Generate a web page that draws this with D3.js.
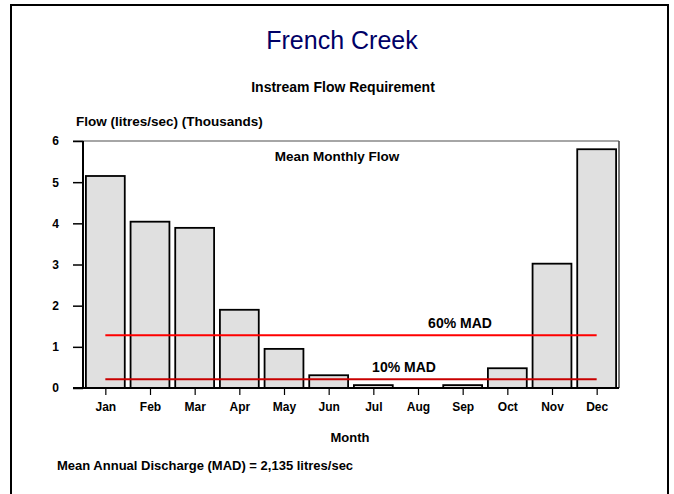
<!DOCTYPE html>
<html><head><meta charset="utf-8">
<script src="https://cdn.jsdelivr.net/npm/d3@7/dist/d3.min.js"></script>
<style>
body{margin:0;background:#fff}
svg{display:block}
text{font-family:"Liberation Sans",Arial,Helvetica,sans-serif;fill:#000}
</style>
</head><body>
<svg id="chart" width="674" height="494"></svg>
<script>
// ---- data ----
const months = ["Jan","Feb","Mar","Apr","May","Jun","Jul","Aug","Sep","Oct","Nov","Dec"];
const meanFlow = [5.15, 4.04, 3.89, 1.90, 0.95, 0.31, 0.07, 0.0, 0.07, 0.48, 3.02, 5.80]; // thousands litres/sec
const yTickValues = [0, 1, 2, 3, 4, 5, 6];
const madValue = 2135; // litres/sec
const madPercents = [60, 10];
const madLabels = ["60% MAD", "10% MAD"];
const madColors = ["#ff0000", "#c80000"];

// ---- layout ----
const svg = d3.select("#chart");
const W = 674, H = 494;
const plot = {left: 83, right: 619, top: 141, bottom: 388};

// outer frame
svg.append("path")
  .attr("d", `M11,${H} L11,5 L668,5 L668,${H}`)
  .attr("fill", "none").attr("stroke", "#000").attr("stroke-width", 2);

const x = d3.scaleBand().domain(months).range([plot.left, plot.right])
  .paddingInner(0.13).paddingOuter(0.065);
const xc = d3.scalePoint().domain(months).range([plot.left, plot.right]).padding(0.5);
const y = d3.scaleLinear().domain([0, 6]).range([plot.bottom, plot.top]);

// plot border (top, right)
svg.append("line").attr("x1", 73).attr("x2", plot.right).attr("y1", plot.top).attr("y2", plot.top)
  .attr("stroke", "#888").attr("stroke-width", 1.5);
svg.append("line").attr("x1", plot.right).attr("x2", plot.right).attr("y1", plot.top).attr("y2", plot.bottom)
  .attr("stroke", "#444").attr("stroke-width", 1.5);

// bars
svg.append("g").selectAll("rect").data(meanFlow).join("rect")
  .attr("x", (d, i) => x(months[i]))
  .attr("width", x.bandwidth())
  .attr("y", d => y(d))
  .attr("height", d => y(0) - y(d))
  .attr("fill", "#e0e0e0")
  .attr("stroke", d => d > 0 ? "#000" : "none")
  .attr("stroke-width", 1.8);

// MAD lines
const madVals = madPercents.map(p => madValue * p / 100 / 1000);
svg.append("g").selectAll("line").data(madVals).join("line")
  .attr("x1", xc(months[0])).attr("x2", xc(months[months.length - 1]))
  .attr("y1", d => y(d)).attr("y2", d => y(d))
  .attr("stroke", (d, i) => madColors[i]).attr("stroke-width", 2);

const labelX = [460, 404];
svg.append("g").selectAll("text").data(madVals).join("text")
  .attr("x", (d, i) => labelX[i])
  .attr("y", d => y(d) - 7)
  .attr("text-anchor", "middle")
  .attr("font-size", 14).attr("font-weight", "bold")
  .text((d, i) => madLabels[i]);

// y axis
const yAxis = svg.append("g").attr("transform", `translate(${plot.left},0)`)
  .call(d3.axisLeft(y).tickValues(yTickValues).tickSize(10).tickPadding(14).tickFormat(d3.format("d")));
yAxis.select(".domain").remove();
yAxis.selectAll(".tick line").attr("stroke", "#000").attr("stroke-width", 1.5);
yAxis.selectAll(".tick text").attr("font-size", 12).attr("font-weight", "bold")
  .attr("font-family", '"Liberation Sans",Arial,sans-serif');
svg.append("line").attr("x1", plot.left).attr("x2", plot.left).attr("y1", plot.top).attr("y2", plot.bottom + 1)
  .attr("stroke", "#000").attr("stroke-width", 2);

// x axis
const xAxis = svg.append("g").attr("transform", `translate(0,${plot.bottom})`)
  .call(d3.axisBottom(xc).tickSize(7).tickPadding(7));
xAxis.select(".domain").remove();
xAxis.selectAll(".tick line").attr("stroke", "#000").attr("stroke-width", 1.2);
xAxis.selectAll(".tick text").attr("font-size", 12).attr("font-weight", "bold")
  .attr("font-family", '"Liberation Sans",Arial,sans-serif');
svg.append("line").attr("x1", 73).attr("x2", plot.right).attr("y1", plot.bottom).attr("y2", plot.bottom)
  .attr("stroke", "#000").attr("stroke-width", 2);

// titles
svg.append("text").attr("x", 342).attr("y", 49).attr("text-anchor", "middle")
  .attr("font-size", 25).style("fill", "#000066")
  .text("French Creek");
svg.append("text").attr("x", 343).attr("y", 92).attr("text-anchor", "middle")
  .attr("font-size", 14).attr("font-weight", "bold")
  .text("Instream Flow Requirement");
svg.append("text").attr("x", 76).attr("y", 126)
  .attr("font-size", 13.5).attr("font-weight", "bold")
  .text("Flow (litres/sec) (Thousands)");
svg.append("text").attr("x", 337).attr("y", 161).attr("text-anchor", "middle")
  .attr("font-size", 13.5).attr("font-weight", "bold")
  .text("Mean Monthly Flow");
svg.append("text").attr("x", 350).attr("y", 442).attr("text-anchor", "middle")
  .attr("font-size", 13).attr("font-weight", "bold")
  .text("Month");
svg.append("text").attr("x", 57).attr("y", 470)
  .attr("font-size", 13).attr("font-weight", "bold")
  .text("Mean Annual Discharge (MAD) = " + d3.format(",")(madValue) + " litres/sec");
</script>
</body></html>
